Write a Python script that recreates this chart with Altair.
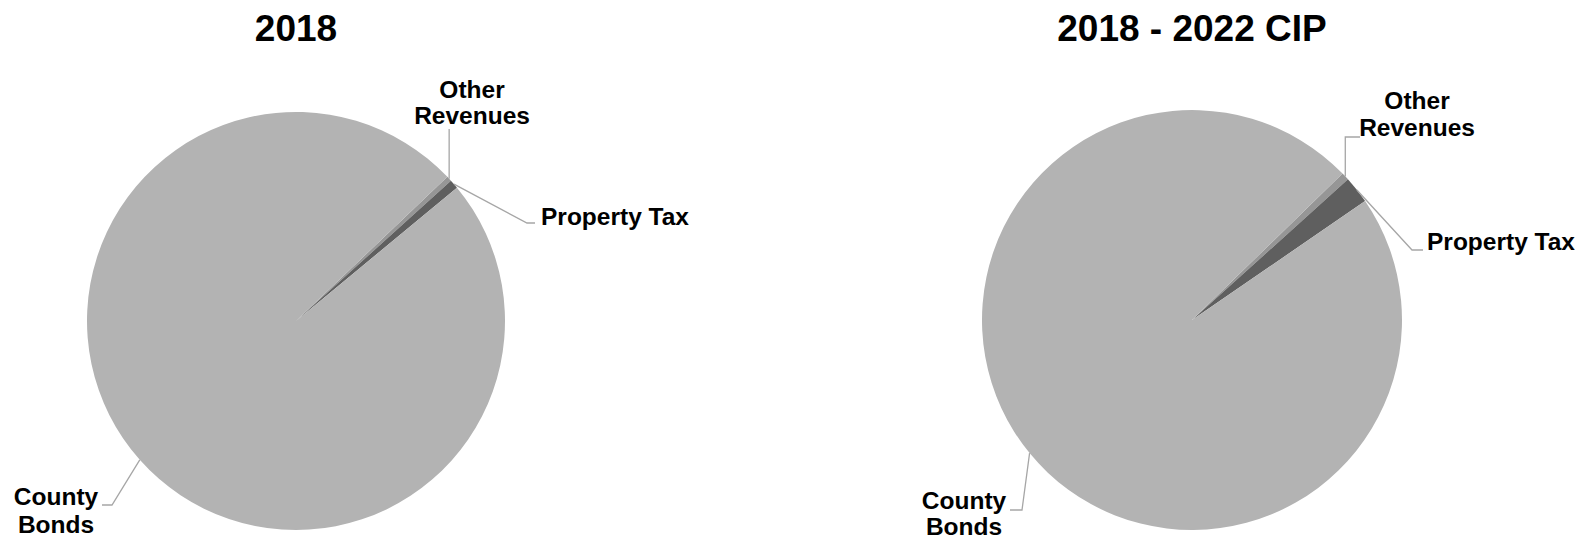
import math
import pandas as pd
import altair as alt

# ---- data ----
categories = ["Other Revenues", "Property Tax", "County Bonds"]
share_2018 = [0.4, 0.7, 98.9]
share_cip = [0.6, 2.1, 97.3]
titles = ["2018", "2018 - 2022 CIP"]
label_lines = {
    "Other Revenues": ["Other", "Revenues"],
    "Property Tax": ["Property Tax"],
    "County Bonds": ["County", "Bonds"],
}

# ---- styling / layout ----
W, H = 1567, 534
colors = ["#969696", "#5f5f5f", "#b3b3b3"]
FONT = "Liberation Sans"
LEADER = "#a6a6a6"

pies = [
    dict(title=titles[0], values=share_2018, cx=288, cy=313, r=209, rot=46.4, title_y=21.5,
         leaders={"Other Revenues": [("v", 121)],
                  "Property Tax": [(519, 215), (527, 215)],
                  "County Bonds": [(104, 497), (94, 497)]},
         labels={"Other Revenues": ("center", 464, [83, 109]),
                 "Property Tax": ("left", 533, [210]),
                 "County Bonds": ("center", 48, [490, 518])}),
    dict(title=titles[1], values=share_cip, cx=1184, cy=312, r=210, rot=45.8, title_y=21.5,
         leaders={"Other Revenues": [("v", 129), (1352, 129)],
                  "Property Tax": [(1404, 242), (1415, 242)],
                  "County Bonds": [(1014, 502), (1002, 502)]},
         labels={"Other Revenues": ("center", 1409, [94, 121]),
                 "Property Tax": ("left", 1419, [235]),
                 "County Bonds": ("center", 956, [494, 520])}),
]

xs = alt.Scale(domain=[0, W], range=[0, W], nice=False, zero=False)
ys = alt.Scale(domain=[0, H], range=[0, H], nice=False, zero=False)
color_scale = alt.Scale(domain=categories, range=colors)

layers = []
line_rows, text_rows, title_rows = [], [], []
for p_i, p in enumerate(pies):
    df = pd.DataFrame({"category": categories, "value": p["values"], "idx": list(range(len(categories)))})
    rot = math.radians(p["rot"])
    arc = alt.Chart(df).mark_arc(outerRadius=p["r"], strokeWidth=0).encode(
        theta=alt.Theta("value:Q", stack=True, scale=alt.Scale(range=[rot, rot + 2 * math.pi])),
        color=alt.Color("category:N", scale=color_scale, legend=None),
        order=alt.Order("idx:Q"),
        x=alt.value(p["cx"]),
        y=alt.value(p["cy"]),
    )
    layers.append(arc)

    total = sum(p["values"])
    cum = 0.0
    for cat, v in zip(categories, p["values"]):
        mid = p["rot"] + (cum + v / 2) / total * 360
        cum += v
        a = math.radians(mid)
        x0 = p["cx"] + p["r"] * math.sin(a)
        y0 = p["cy"] - p["r"] * math.cos(a)
        pts = [(x0, y0)]
        for pt in p["leaders"][cat]:
            if pt[0] == "v":
                pts.append((x0, pt[1]))
            else:
                pts.append(pt)
        for s, (x, y) in enumerate(pts):
            line_rows.append({"key": f"{p_i}-{cat}", "seq": s, "x": x, "y": y})
        align, lx, lys = p["labels"][cat]
        for t, ly in zip(label_lines[cat], lys):
            text_rows.append({"text": t, "x": lx, "y": ly, "align": align})
    title_rows.append({"text": p["title"], "x": p["cx"], "y": p["title_y"]})

lines = alt.Chart(pd.DataFrame(line_rows)).mark_line(color=LEADER, strokeWidth=1.3).encode(
    x=alt.X("x:Q", scale=xs, axis=None),
    y=alt.Y("y:Q", scale=ys, axis=None),
    detail="key:N",
    order="seq:Q",
)
layers.append(lines)

tdf = pd.DataFrame(text_rows)
for al in ["center", "left"]:
    layers.append(
        alt.Chart(tdf[tdf["align"] == al]).mark_text(
            font=FONT, fontWeight="bold", fontSize=24.5, color="black", align=al, baseline="middle"
        ).encode(
            x=alt.X("x:Q", scale=xs, axis=None),
            y=alt.Y("y:Q", scale=ys, axis=None),
            text="text:N",
        )
    )

layers.append(
    alt.Chart(pd.DataFrame(title_rows)).mark_text(
        font=FONT, fontWeight="bold", fontSize=37, color="black", align="center", baseline="middle"
    ).encode(
        x=alt.X("x:Q", scale=xs, axis=None),
        y=alt.Y("y:Q", scale=ys, axis=None),
        text="text:N",
    )
)

chart = (
    alt.layer(*layers)
    .resolve_scale(theta="independent")
    .properties(width=W, height=H, autosize=alt.AutoSizeParams(type="none"), padding=0, background="white")
    .configure_view(stroke=None)
)

chart.save("out.html", embed_options={"renderer": "svg", "actions": False})
